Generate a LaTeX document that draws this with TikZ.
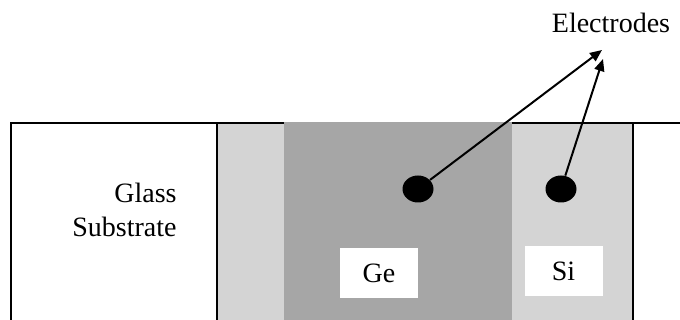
\documentclass[tikz,border=0pt]{standalone}
\usepackage{fontspec}
\setmainfont{Liberation Serif}
\usepackage{tikz}
\usetikzlibrary{positioning,shapes.geometric,arrows.meta}
\definecolor{ink}     {HTML}{000000}
\definecolor{lightsi} {HTML}{D4D4D4}
\definecolor{darkge}  {HTML}{A6A6A6}
\tikzset{
  every node/.style={font=\fontsize{14}{17}\selectfont},
  % --- regions
  edge/.style  = {draw=ink, line width=0.75pt},
  lbox/.style  = {fill=white, inner sep=0pt, minimum width=39pt, minimum height=25pt},
  dot/.style   = {ellipse, fill=ink, inner sep=0pt, minimum width=15.5pt, minimum height=13.5pt},
  lbl/.style   = {align=right, inner sep=0pt},
  % --- edges
  e/.style     = {-{Triangle[length=6pt,width=5pt]}, draw=ink, line width=1pt},
}
\begin{document}
\begin{tikzpicture}[x=0.5pt,y=0.5pt]
  \useasboundingbox (0,0) rectangle (680,320);

  % layers
  \fill[lightsi] (217,0) rectangle (284,197);
  \fill[darkge]  (284,0) rectangle (512,198);
  \fill[lightsi] (512,0) rectangle (633,197);

  % outlines
  \draw[edge] (11,0) -- (11,197) -- (284,197);
  \draw[edge] (217,0) -- (217,197);
  \draw[edge] (512,197) -- (680,197);
  \draw[edge] (633,0) -- (633,197);

  % labels
  \node[lbl, anchor=east] (glass) at (177,110) {Glass\\Substrate};
  \node[lbox] (ge) at (379,47) {Ge};
  \node[lbox] (si) at (563.5,49) {Si};
  \node[inner sep=0pt] (electrodes) at (611,297) {Electrodes};

  % electrodes
  \node[dot] (gedot) at (418,131) {};
  \node[dot] (sidot) at (561,131) {};
  \coordinate (getip) at (602,270);
  \coordinate (sitip) at (603,261);

  \draw[e] (gedot) -- (getip);
  \draw[e] (sidot) -- (sitip);
\end{tikzpicture}
\end{document}
